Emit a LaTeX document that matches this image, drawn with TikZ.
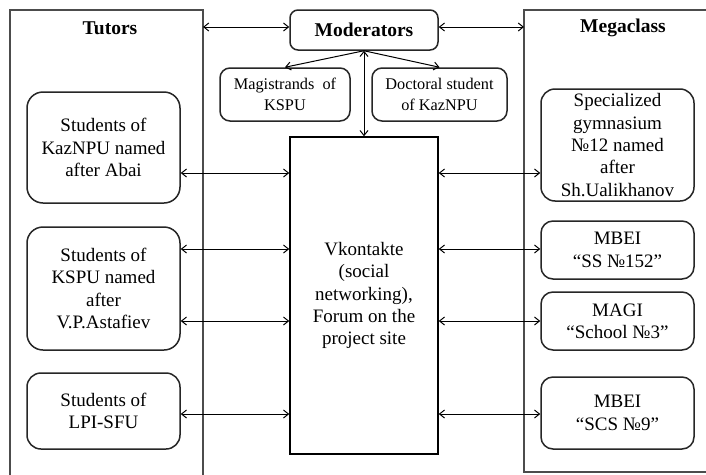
\documentclass[tikz,border=0pt]{standalone}
\usepackage{fontspec}
\setmainfont{Liberation Serif}
\usetikzlibrary{arrows.meta}
\begin{document}
\begin{tikzpicture}[x=1pt,y=-1pt,
  txt/.style={font=\fontsize{19}{22.3}\selectfont, align=center, inner sep=0pt},
  ttl/.style={font=\fontsize{19.5}{22}\selectfont\bfseries, inner sep=0pt},
  small/.style={font=\fontsize{16.3}{21}\selectfont, align=center, inner sep=0pt},
  rbox/.style={draw=black!85, line width=1.5pt, rounded corners=#1, align=center, inner sep=0pt},
  rbox/.default=14pt,
  frame/.style={draw=black!70, line width=1.8pt},
  arr/.style={{Straight Barb[length=5pt,width=8pt]}-{Straight Barb[length=5pt,width=8pt]}, line width=1pt},
  arr1/.style={-{Straight Barb[length=5pt,width=8pt]}, line width=1pt}]
\useasboundingbox (0,0) rectangle (706,474);
\clip (0,0) rectangle (706,474);
\fill[white] (0,0) rectangle (706,474);
% big frames
\draw[frame] (10,10) rectangle (203,490);
\draw[frame] (524,10) rectangle (740,472);
\node[ttl] (tt) at (110,28) {Tutors};
\node[ttl] (mt) at (623,28) {Megaclass};
% moderators
\node[rbox=8pt, minimum width=148pt, minimum height=40pt, ttl] (mod) at (364,30) {Moderators};
\node[rbox=10pt, minimum width=130pt, minimum height=53pt, small] (mag) at (285,94.5) {Magistrands\ \ of\\KSPU};
\node[rbox=10pt, minimum width=135pt, minimum height=53pt, small] (doc) at (439.5,94.5) {Doctoral student\\of KazNPU};
% central
\node[draw=black, line width=1.5pt, minimum width=148pt, minimum height=317pt, txt, inner sep=0pt] (vk) at (364,295.5) {Vkontakte\\(social\\networking),\\Forum on the\\project site};
% left boxes
\node[rbox=16pt, minimum width=153pt, minimum height=111pt, txt] (l1) at (103.5,147.5) {Students of\\KazNPU named\\after Abai};
\node[rbox=16pt, minimum width=153pt, minimum height=123pt, txt] (l2) at (103.5,288.5) {Students of\\KSPU named\\after\\V.P.Astafiev};
\node[rbox=14pt, minimum width=153pt, minimum height=76pt, txt] (l3) at (103.5,411) {Students of\\LPI-SFU};
% right boxes
\node[rbox=14pt, minimum width=153pt, minimum height=112pt, txt] (r1) at (617.5,145) {Specialized\\gymnasium\\№12 named\\after\\Sh.Ualikhanov};
\node[rbox=12pt, minimum width=153pt, minimum height=58pt, txt] (r2) at (617.5,250) {MBEI\\“SS №152”};
\node[rbox=12pt, minimum width=153pt, minimum height=58pt, txt] (r3) at (617.5,321) {MAGI\\“School №3”};
\node[rbox=12pt, minimum width=153pt, minimum height=72pt, txt] (r4) at (617.5,413) {MBEI\\“SCS №9”};
% top arrows
\draw[arr] (tt.east -| 203,0) ++(0,-1) -- (mod.west |- 0,27);
\draw[arr] (mod.east |- 0,27) -- (524,27);
\draw[arr1] (mod.south) -- (mag.north);
\draw[arr1] (mod.south) -- (doc.north);
\draw[arr] (mod.south) -- (vk.north);
% left arrows
\draw[arr] (l1.east |- 0,173) -- (vk.west |- 0,173);
\draw[arr] (l2.east |- 0,249) -- (vk.west |- 0,249);
\draw[arr] (l2.east |- 0,321) -- (vk.west |- 0,321);
\draw[arr] (l3.east |- 0,414) -- (vk.west |- 0,414);
% right arrows
\draw[arr] (vk.east |- 0,173) -- (r1.west |- 0,173);
\draw[arr] (vk.east |- 0,249) -- (r2.west |- 0,249);
\draw[arr] (vk.east |- 0,321) -- (r3.west |- 0,321);
\draw[arr] (vk.east |- 0,414) -- (r4.west |- 0,414);
\end{tikzpicture}
\end{document}
